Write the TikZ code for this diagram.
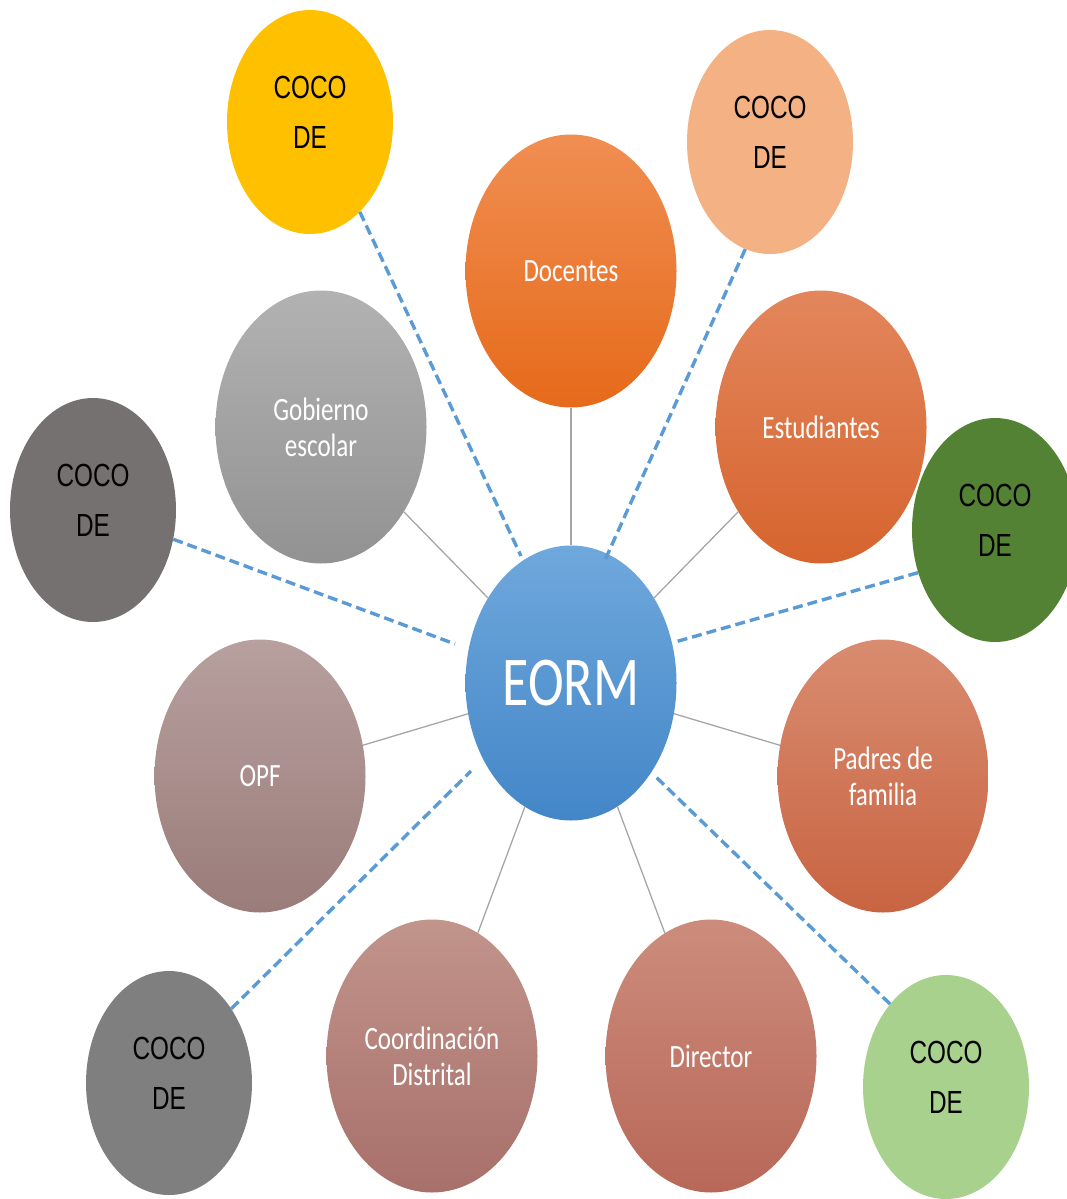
\documentclass[tikz,border=0pt]{standalone}
\usepackage{fontspec}
\usetikzlibrary{shapes.geometric}
\newfontfamily\lblfont[FakeStretch=0.77]{Carlito}
\newfontfamily\cocofont[FakeStretch=0.76]{Liberation Sans}
\definecolor{dashblue}{HTML}{5B9BD5}
\definecolor{linegray}{HTML}{A6A6A6}
\definecolor{cocoyellow}{HTML}{FFC000}
\definecolor{cocopeach}{HTML}{F4B183}
\definecolor{cocodark}{HTML}{767171}
\definecolor{cocogreen}{HTML}{548235}
\definecolor{cocogray}{HTML}{7F7F7F}
\definecolor{cocolgreen}{HTML}{A9D18E}
\tikzset{
  ring/.style={ellipse, inner sep=0pt, minimum width=211pt, minimum height=273pt,
    text=white, align=center, font=\lblfont\fontsize{32.5}{36}\selectfont},
  coco/.style={ellipse, inner sep=0pt, minimum width=166pt, minimum height=224pt},
  cocotext/.style={align=center, text=black, font=\cocofont\fontsize{32}{50}\selectfont},
  conn/.style={draw=linegray, line width=1.3pt},
  dashconn/.style={draw=dashblue, line width=3.4pt, dash pattern=on 10pt off 5pt}
}
\begin{document}
\begin{tikzpicture}[x=1pt,y=-1pt]
\useasboundingbox (0,0) rectangle (1067,1199);
% center
\node[ring, minimum width=211pt, minimum height=275pt, top color={rgb,255:red,111;green,168;blue,220}, bottom color={rgb,255:red,67;green,134;blue,200}, font=\lblfont\fontsize{70}{80}\selectfont] (eorm) at (571,683) {EORM};
% ring nodes
\node[ring, top color={rgb,255:red,240;green,142;blue,82}, bottom color={rgb,255:red,230;green,106;blue,26}] (doc) at (571,271) {Docentes};
\node[ring, top color={rgb,255:red,227;green,134;blue,92}, bottom color={rgb,255:red,214;green,100;blue,46}] (est) at (821,427) {Estudiantes};
\node[ring, top color={rgb,255:red,217;green,140;blue,112}, bottom color={rgb,255:red,200;green,100;blue,66}] (pad) at (883,776) {Padres de\\familia};
\node[ring, top color={rgb,255:red,204;green,140;blue,124}, bottom color={rgb,255:red,184;green,104;blue,88}] (dir) at (711,1056) {Director};
\node[ring, top color={rgb,255:red,193;green,148;blue,140}, bottom color={rgb,255:red,168;green,112;blue,106}] (coord) at (432,1056) {Coordinación\\Distrital};
\node[ring, top color={rgb,255:red,183;green,160;blue,158}, bottom color={rgb,255:red,154;green,124;blue,122}] (opf) at (260,776) {OPF};
\node[ring, top color={rgb,255:red,178;green,178;blue,178}, bottom color={rgb,255:red,146;green,146;blue,146}] (gob) at (321,427) {Gobierno\\escolar};
% COCO DE nodes
\node[coco, fill=cocoyellow] (c1) at (310,122) {};
\node[coco, fill=cocopeach] (c2) at (770,142) {};
\node[coco, fill=cocodark] (c3) at (93,510) {};
\node[coco, fill=cocogreen] (c4) at (995,530) {};
\node[coco, fill=cocogray] (c5) at (169,1083) {};
\node[coco, fill=cocolgreen] (c6) at (946,1087) {};
\foreach \c in {c1,c2,c3,c4,c5,c6}{
  \node[cocotext] (\c t) at ([yshift=10pt]\c.center) {COCO\\DE};
}
% ends of the dashed connectors at EORM
\coordinate (e1) at (521,556);
\coordinate (e2) at (605,560);
\coordinate (e3) at (455,644);
\coordinate (e4) at (675,642);
\coordinate (e5) at (471,771);
\coordinate (e6) at (655,776);
% solid connectors
\foreach \n in {doc,est,pad,dir,coord,opf,gob}{
  \draw[conn] (eorm) -- (\n);
}
% dashed connectors
\draw[dashconn] (c1.-61) -- (e1);
\draw[dashconn] (c2.-103) -- (e2);
\draw[dashconn] (c3.-20) -- (e3);
\draw[dashconn] (c4.-151) -- (e4);
\draw[dashconn] (c5.50) -- (e5);
\draw[dashconn] (c6.124) -- (e6);
\end{tikzpicture}
\end{document}
